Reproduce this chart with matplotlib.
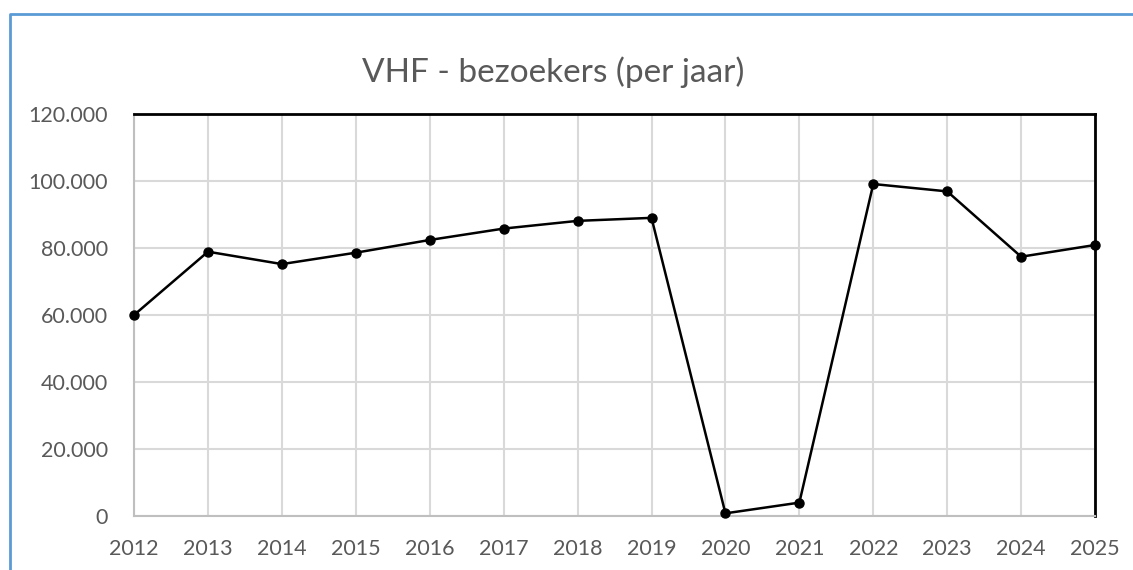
import matplotlib.pyplot as plt
from matplotlib.lines import Line2D
from matplotlib.ticker import FuncFormatter

jaren = [2012, 2013, 2014, 2015, 2016, 2017, 2018, 2019, 2020, 2021, 2022, 2023, 2024, 2025]
bezoekers = [60000, 78900, 75200, 78600, 82400, 85800, 88100, 89000, 800, 4000, 99100, 96900, 77400, 80900]

plt.rcParams['font.family'] = ['Lato', 'DejaVu Sans']
tekst = '#595959'

fig = plt.figure(figsize=(11.33, 5.70), dpi=100)
ax = fig.add_axes([0.1183, 0.0947, 0.8482, 0.7053])

ax.plot(jaren, bezoekers, color='black', lw=1.8, marker='o', markersize=6.5, zorder=3, clip_on=False)

ax.set_xlim(2012, 2025)
ax.set_ylim(0, 120000)
ax.set_xticks(jaren)
ax.set_yticks(range(0, 120001, 20000))
ax.yaxis.set_major_formatter(FuncFormatter(lambda v, p: f'{int(v):,}'.replace(',', '.')))
ax.grid(True, color='#D9D9D9', lw=1.5)
ax.set_axisbelow(True)
ax.tick_params(length=0, labelsize=15.5, labelcolor=tekst)
ax.tick_params(axis='x', pad=16.5)
ax.tick_params(axis='y', pad=19)

for s in ['top', 'right']:
    ax.spines[s].set_color('black')
    ax.spines[s].set_linewidth(2)
for s in ['left', 'bottom']:
    ax.spines[s].set_color('#BFBFBF')
    ax.spines[s].set_linewidth(1.5)

fig.text(0.488, 0.873, 'VHF - bezoekers (per jaar)', ha='center', va='center', fontsize=24, color=tekst)

# blauwe kaderrand links en boven
x0, y0 = 10 / 1133, 1 - 14 / 570
fig.add_artist(Line2D([x0, x0, 1], [0, y0, y0], transform=fig.transFigure, color='#5B9BD5', lw=2))

fig.savefig('out.png', dpi=100)
